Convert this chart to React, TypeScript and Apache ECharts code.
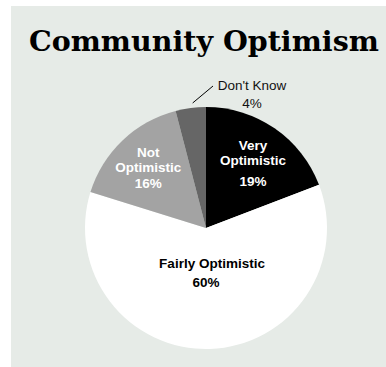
import React, { useEffect, useRef } from "react";
import * as echarts from "echarts";

const TITLE = "Community Optimism";
const categories = ["Very Optimistic", "Fairly Optimistic", "Not Optimistic", "Don't Know"];
const values = [19, 60, 16, 4];
const sliceColors = ["#000000", "#ffffff", "#a3a3a3", "#666666"];

export default function App() {
  const ref = useRef<HTMLDivElement>(null);
  useEffect(() => {
    if (!ref.current) return;
    const chart = echarts.init(ref.current, null, { renderer: "svg" });
    const insideBase = {
      show: true,
      position: "inside",
      fontFamily: "Liberation Sans, Arial, sans-serif",
      fontWeight: "bold",
      fontSize: 13.5,
    };
    const labelFor = (i: number) => {
      if (i === 0) {
        return {
          ...insideBase,
          color: "#ffffff",
          offset: [11, -9],
          formatter: (p: any) => `{a|Very}\n{a|Optimistic}\n{b|${p.value}%}`,
          rich: {
            a: { color: "#fff", fontWeight: "bold", fontSize: 13.5, lineHeight: 15, fontFamily: "Liberation Sans, Arial, sans-serif" },
            b: { color: "#fff", fontWeight: "bold", fontSize: 13.5, lineHeight: 27, fontFamily: "Liberation Sans, Arial, sans-serif" },
          },
        };
      }
      if (i === 1) {
        return {
          ...insideBase,
          color: "#000000",
          offset: [4, -18],
          formatter: (p: any) => `{a|${p.name}}\n{b|${p.value}%}`,
          rich: {
            a: { color: "#000", fontWeight: "bold", fontSize: 13.5, lineHeight: 19, fontFamily: "Liberation Sans, Arial, sans-serif" },
            b: { color: "#000", fontWeight: "bold", fontSize: 13.5, lineHeight: 19, padding: [0, 12, 0, 0], fontFamily: "Liberation Sans, Arial, sans-serif" },
          },
        };
      }
      if (i === 2) {
        return {
          ...insideBase,
          color: "#ffffff",
          offset: [-14, -14.5],
          lineHeight: 15.5,
          formatter: (p: any) => `${p.name.replace(" ", "\n")}\n${p.value}%`,
        };
      }
      return {
        show: true,
        position: "outside",
        color: "#111111",
        fontFamily: "Liberation Sans, Arial, sans-serif",
        fontSize: 13.5,
        lineHeight: 18,
        formatter: (p: any) => `${p.name}\n${p.value}%`,
      };
    };
    const data = categories.map((name, i) => ({
      name,
      value: values[i],
      itemStyle: { color: sliceColors[i] },
      label: labelFor(i),
      labelLine: { show: i === 3, lineStyle: { color: "#000", width: 1 } },
    }));
    chart.setOption({
      animation: false,
      backgroundColor: "#e6ebe7",
      title: {
        text: TITLE,
        left: 13,
        top: 15,
        textStyle: {
          fontFamily: "DejaVu Serif",
          fontWeight: "bold",
          fontSize: 28.5,
          color: "#000",
        },
      },
      series: [
        {
          type: "pie",
          center: [195, 222],
          radius: 121,
          startAngle: 90,
          clockwise: true,
          silent: true,
          data,
          labelLayout: (params: any) => {
            if (params.dataIndex !== 3) return {};
            const x = 241;
            const y = 88;
            const p0 = params.labelLinePoints ? params.labelLinePoints[0] : [180, 102];
            return {
              x,
              y,
              align: "center",
              verticalAlign: "middle",
              labelLinePoints: [
                [p0[0] + 2, p0[1] - 5],
                [x - 39, y - 8],
              ],
            };
          },
        },
      ],
    });
    return () => chart.dispose();
  }, []);
  return (
    <div style={{ position: "absolute", left: 0, top: 0, width: 386, height: 367, background: "#ffffff" }}>
      <div ref={ref} style={{ position: "absolute", left: 11, top: 6, width: 375, height: 361 }} />
    </div>
  );
}
